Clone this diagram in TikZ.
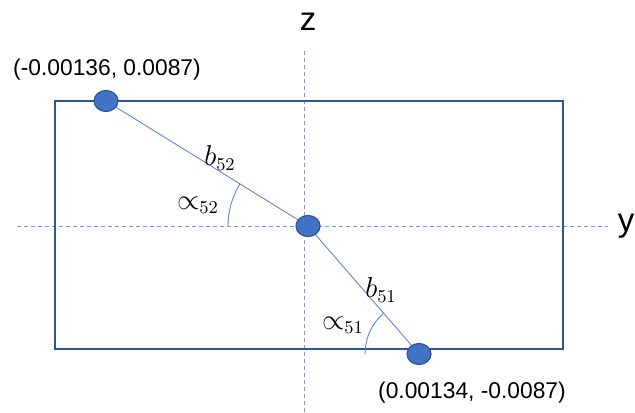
\documentclass[tikz,border=0pt]{standalone}
\usepackage{fontspec}
\setmainfont{Liberation Sans}
\usetikzlibrary{shapes.geometric}
\definecolor{framblue}{RGB}{47,85,151}
\definecolor{dotblue}{RGB}{68,114,196}
\definecolor{linkblue}{RGB}{95,135,205}
\definecolor{axisblue}{RGB}{120,155,215}

\begin{document}
\begin{tikzpicture}[x=0.5pt,y=0.5pt,
        axis/.style={axisblue,line width=0.4pt,dash pattern=on 2pt off 1.5pt},
        frame/.style={framblue,line width=1pt},
        link/.style={linkblue,line width=0.45pt},
        angarc/.style={linkblue,line width=0.45pt},
        dot/.style={ellipse,draw=framblue,fill=dotblue,line width=0.6pt,
                    minimum width=12pt,minimum height=10.5pt,inner sep=0pt},
        coord/.style={font=\fontsize{11.4}{13}\selectfont},
        axlbl/.style={font=\fontsize{16.5}{18}\selectfont},
        sym/.style={font=\fontsize{13.5}{15}\selectfont}]
    \useasboundingbox (0,0) rectangle (635,412);
    \coordinate (zbot) at (304,0);
    \coordinate (ztop) at (304,364);
    \coordinate (yleft) at (17,186);
    \coordinate (yright) at (608,186);
    \draw[axis] (zbot) -- (ztop);
    \draw[axis] (yleft) -- (yright);
    \node[axlbl] (zlbl) at (308,390) {z};
    \node[axlbl] (ylbl) at (626,186) {y};
    \draw[frame] (55,63) rectangle (563,311);
    \coordinate (oc) at (308,186);
    \coordinate (p51c) at (419,58);
    \draw[link] (106,311) -- (oc) -- (p51c);
    \draw[angarc] ([shift={(180:40pt)}]oc) arc[start angle=180,end angle=148.3,radius=40pt];
    \draw[angarc] ([shift={(180:27pt)}]p51c) arc[start angle=180,end angle=131,radius=27pt];
    \node[dot] (p52) at (106,311) {};
    \node[dot] (o) at (oc) {};
    \node[dot] (p51) at (p51c) {};
    \node[coord] (c52) at (107,342) {(-0.00136, 0.0087)};
    \node[coord] (c51) at (472,19) {(0.00134, -0.0087)};
    \node[sym] (b52) at (220,254) {$b_{52}$};
    \node[sym] (a52) at (198,207) {$\propto_{52}$};
    \node[sym] (b51) at (381,122) {$b_{51}$};
    \node[sym] (a51) at (343,87) {$\propto_{51}$};
\end{tikzpicture}
\end{document}
